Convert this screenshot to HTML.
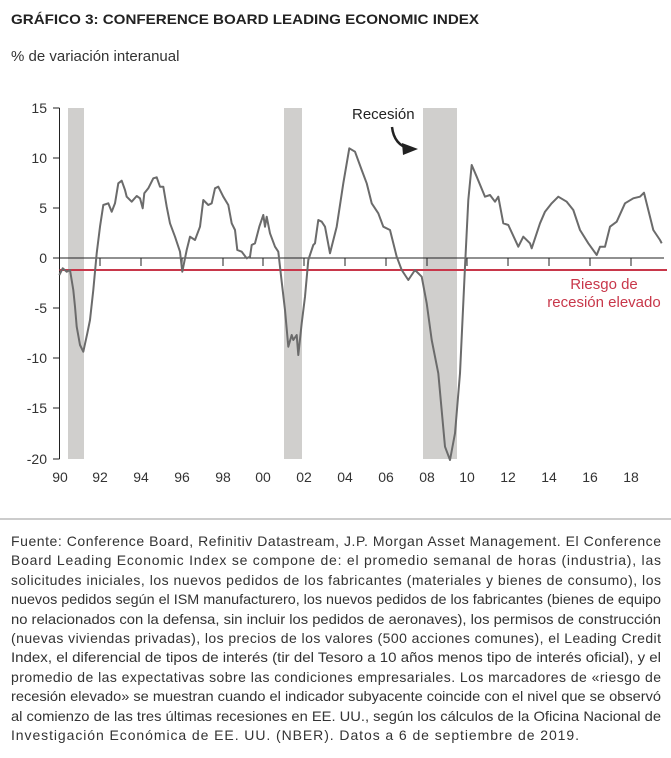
<!DOCTYPE html>
<html><head><meta charset="utf-8"><style>
html,body{margin:0;padding:0;background:#fff;width:671px;height:758px;overflow:hidden}
svg{display:block;font-family:"Liberation Sans",sans-serif}
</style></head><body>
<svg width="671" height="758" viewBox="0 0 671 758" xmlns="http://www.w3.org/2000/svg">
<text x="11" y="24" font-size="14" font-weight="bold" fill="#222" textLength="468" lengthAdjust="spacingAndGlyphs">GRÁFICO 3: CONFERENCE BOARD LEADING ECONOMIC INDEX</text>
<text x="11" y="61" font-size="15" fill="#333">% de variación interanual</text>
<g fill="#d0cfcd">
<rect x="68" y="108" width="16" height="351"/>
<rect x="284" y="108" width="18" height="351"/>
<rect x="423" y="108" width="34" height="351"/>
</g>
<g stroke="#222" stroke-width="1" fill="none">
<line x1="59.5" y1="108" x2="59.5" y2="459"/>
<line x1="59.5" y1="258" x2="664" y2="258"/>
<path d="M53 108H59.5M53 158H59.5M53 208H59.5M53 258H59.5M53 308H59.5M53 358H59.5M53 408H59.5M53 459H59.5"/>
<path d="M100 258v8M141 258v8M182 258v8M223 258v8M263 258v8M304 258v8M345 258v8M386 258v8M427 258v8M467 258v8M508 258v8M549 258v8M590 258v8M631 258v8"/>
</g>
<line x1="59.5" y1="270" x2="667" y2="270" stroke="#c8374a" stroke-width="2"/>
<g font-size="14" fill="#333" text-anchor="end">
<text x="47" y="113">15</text><text x="47" y="163">10</text><text x="47" y="213">5</text><text x="47" y="263">0</text><text x="47" y="313">-5</text><text x="47" y="363">-10</text><text x="47" y="413">-15</text><text x="47" y="464">-20</text>
</g>
<g font-size="14" fill="#333" text-anchor="middle">
<text x="60" y="482">90</text><text x="100" y="482">92</text><text x="141" y="482">94</text><text x="182" y="482">96</text><text x="223" y="482">98</text><text x="263" y="482">00</text><text x="304" y="482">02</text><text x="345" y="482">04</text><text x="386" y="482">06</text><text x="427" y="482">08</text><text x="467" y="482">10</text><text x="508" y="482">12</text><text x="549" y="482">14</text><text x="590" y="482">16</text><text x="631" y="482">18</text>
</g>
<polyline fill="none" stroke="#6b6b6b" stroke-width="2" stroke-linejoin="round" points="59.3,275 62.7,268.3 66.7,271.7 70,270 73.3,290 75,306.7 76.7,326.7 80,345 83.3,351.7 87.3,333.3 90,320 93.3,290 96.7,253.3 100,226.7 103.3,205 108.3,203.3 111.7,211.7 115,203.3 118.3,183.3 121.7,180.7 125,190 126.7,196.7 131.7,201.7 136.7,196 140,198.3 142.7,208.3 144.3,193.3 148.3,188.3 153.3,178.3 156.7,177.3 160,186.7 163.3,186.7 166.7,206.7 170,223.3 175,236.7 180,251.7 182.3,271.7 186.7,250 190,236.7 195,240 200,226.7 203.3,200 208.3,205 211.7,203.3 215,188.3 218.3,186.7 223.3,196.7 228.3,205 231.7,223.3 235,230 237.3,250 241.7,251.7 246.7,258.3 250,256.7 251.7,245 255,243.3 259.3,226.7 263.3,215 265,226.7 266.7,216.7 270,233.3 275,246.7 278.3,251.7 281.7,281.7 285,310 288.3,346.7 291.7,335 293.3,340 296.7,335 298.3,355 301.7,323.3 305,296.7 308.3,260 313.3,245 315,243.3 318.3,220 321.7,221.7 325,226.7 330,253.3 336.7,226.7 343.3,183.3 349.3,148.3 355,151.7 361.7,170 366.7,183.3 371.7,203.3 378.3,213.3 383.3,226.7 390,230 396.7,256.7 401.7,270 408.3,280 415,270 421.7,276.7 426.7,303.3 431.7,340 438.3,373.3 445,446.7 450,460 455,433.3 460,373.3 465,266.7 468.3,200 471.7,165 476.7,176.7 485,196.7 490,195 495,201.7 498.3,196.7 503.3,223.3 508.3,225 518.3,246.7 523.3,236.7 530,243.3 531.7,248.3 540,223.3 545,211.7 551.7,203.3 558.3,196.7 566.7,201.7 573.3,210 580,230 588.3,243.3 596.7,255 600,246.7 605,246.7 610,226.7 616.7,221.7 625,203.3 633.3,198.3 640,196.7 644,192.7 648.3,210 653.3,230 660,240 661.7,243.3"/>
<text x="352" y="119" font-size="15" fill="#222">Recesión</text>
<path d="M392 127 Q394 145 410 149" fill="none" stroke="#222" stroke-width="2.5"/>
<polygon points="402,143 418,149 403,155" fill="#222"/>
<g font-size="15" fill="#c8374a" text-anchor="middle">
<text x="604" y="289">Riesgo de</text><text x="604" y="307">recesión elevado</text>
</g>
<line x1="0" y1="519" x2="671" y2="519" stroke="#999" stroke-width="1"/>
<g font-size="14" fill="#333" lengthAdjust="spacing">
<text x="11" y="546" textLength="650">Fuente: Conference Board, Refinitiv Datastream, J.P. Morgan Asset Management. El Conference</text>
<text x="11" y="565" textLength="650">Board Leading Economic Index se compone de: el promedio semanal de horas (industria), las</text>
<text x="11" y="585" textLength="650">solicitudes iniciales, los nuevos pedidos de los fabricantes (materiales y bienes de consumo), los</text>
<text x="11" y="604" textLength="650" lengthAdjust="spacingAndGlyphs">nuevos pedidos según el ISM manufacturero, los nuevos pedidos de los fabricantes (bienes de equipo</text>
<text x="11" y="624" textLength="650" lengthAdjust="spacingAndGlyphs">no relacionados con la defensa, sin incluir los pedidos de aeronaves), los permisos de construcción</text>
<text x="11" y="643" textLength="650">(nuevas viviendas privadas), los precios de los valores (500 acciones comunes), el Leading Credit</text>
<text x="11" y="662" textLength="650" lengthAdjust="spacingAndGlyphs">Index, el diferencial de tipos de interés (tir del Tesoro a 10 años menos tipo de interés oficial), y el</text>
<text x="11" y="682" textLength="650">promedio de las expectativas sobre las condiciones empresariales. Los marcadores de «riesgo de</text>
<text x="11" y="701" textLength="650" lengthAdjust="spacingAndGlyphs">recesión elevado» se muestran cuando el indicador subyacente coincide con el nivel que se observó</text>
<text x="11" y="721" textLength="650" lengthAdjust="spacingAndGlyphs">al comienzo de las tres últimas recesiones en EE. UU., según los cálculos de la Oficina Nacional de</text>
<text x="11" y="740" textLength="568">Investigación Económica de EE. UU. (NBER). Datos a 6 de septiembre de 2019.</text>
</g>
</svg>
</body></html>
